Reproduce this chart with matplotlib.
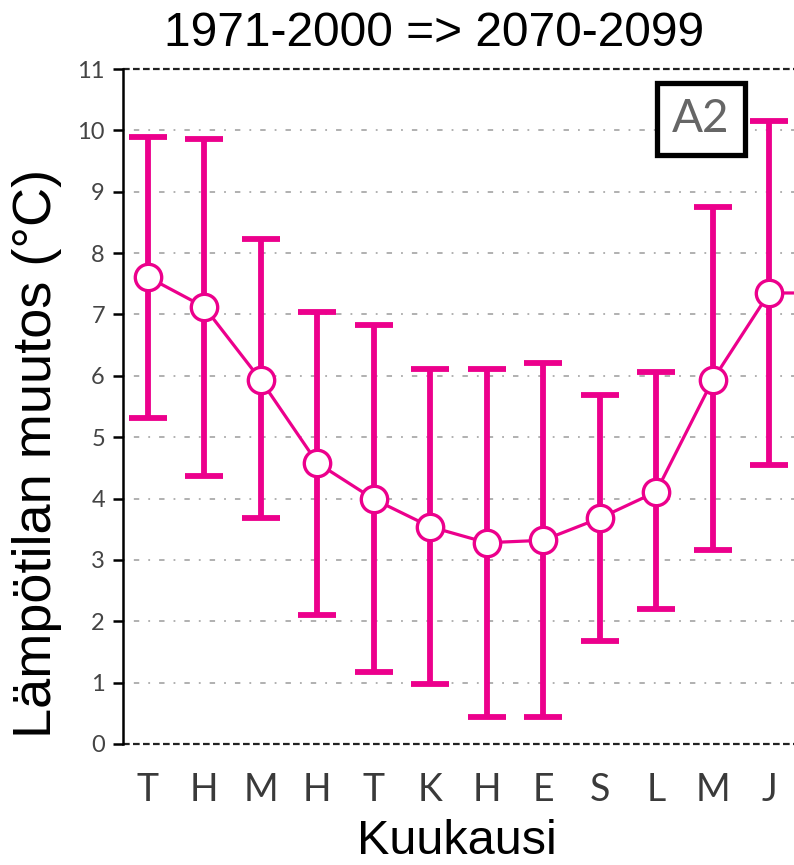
import matplotlib.pyplot as plt

months = ['T', 'H', 'M', 'H', 'T', 'K', 'H', 'E', 'S', 'L', 'M', 'J']
mean_change = [7.61, 7.12, 5.93, 4.58, 3.99, 3.54, 3.28, 3.32, 3.68, 4.11, 5.93, 7.35]
upper = [9.89, 9.86, 8.23, 7.04, 6.83, 6.11, 6.11, 6.21, 5.69, 6.06, 8.75, 10.15]
lower = [5.31, 4.37, 3.68, 2.10, 1.17, 0.98, 0.44, 0.44, 1.68, 2.20, 3.16, 4.55]
next_value = 7.35  # line leaving the plot on the right

pink = '#EC008C'
plt.rcParams['font.family'] = ['Liberation Sans', 'DejaVu Sans']

fig = plt.figure(figsize=(7.94, 8.65), dpi=100)
ax = fig.add_axes([123/794, 121/865, 1 - 123/794, (744-69)/865])

x = list(range(1, len(months) + 1))
yerr = [[m - l for m, l in zip(mean_change, lower)],
        [u - m for m, u in zip(mean_change, upper)]]
ax.errorbar(x, mean_change, yerr=yerr, fmt='none', ecolor=pink,
            elinewidth=4.2, capsize=13.5, capthick=4.2, zorder=3)
ax.plot(x + [13], mean_change + [next_value], color=pink, lw=2.3,
        marker='o', ms=19, mfc='white', mec=pink, mew=2.4, zorder=4,
        markevery=list(range(len(months))))

ax.set_xlim(0.56, 12.44)
ax.set_ylim(0, 11)
ax.set_yticks(range(0, 12))
ax.set_xticks(x)
ax.set_xticklabels(months)

for v in range(1, 11):
    ax.axhline(v, color='#aaaaaa', lw=1.3, ls=(0, (1, 5, 3, 5)), zorder=1)
for v in (0, 11):
    ax.axhline(v, color='#222222', lw=1.6, ls=(0, (3, 1.5)), zorder=2, clip_on=False)

for s in ('top', 'bottom', 'right'):
    ax.spines[s].set_visible(False)
ax.spines['left'].set_linewidth(1.8)
ax.tick_params(axis='y', length=7, width=1.8, labelsize=17, labelcolor='#444444', pad=6)
ax.tick_params(axis='x', length=0, labelsize=27, labelcolor='#3a3a3a', pad=20)
for lab in ax.get_xticklabels() + ax.get_yticklabels():
    lab.set_family(['Lato', 'Liberation Sans'])
    lab.set_weight('normal')

ax.text(0.861, 0.926, 'A2', transform=ax.transAxes, ha='center', va='center',
        fontsize=33, color='#666666', family=['Lato', 'Liberation Sans'],
        bbox=dict(boxstyle='square,pad=0.33', fc='white', ec='black', lw=3.8))

fig.text(434/794, 1 - 33/865, '1971-2000 => 2070-2099', ha='center', va='center', fontsize=34.5)
fig.text(457/794, 1 - 842/865, 'Kuukausi', ha='center', va='center', fontsize=35)
fig.text(37/794, 1 - 453/865, 'Lämpötilan muutos (°C)', ha='center', va='center',
         rotation=90, fontsize=39)

fig.savefig('out.png', dpi=100)
